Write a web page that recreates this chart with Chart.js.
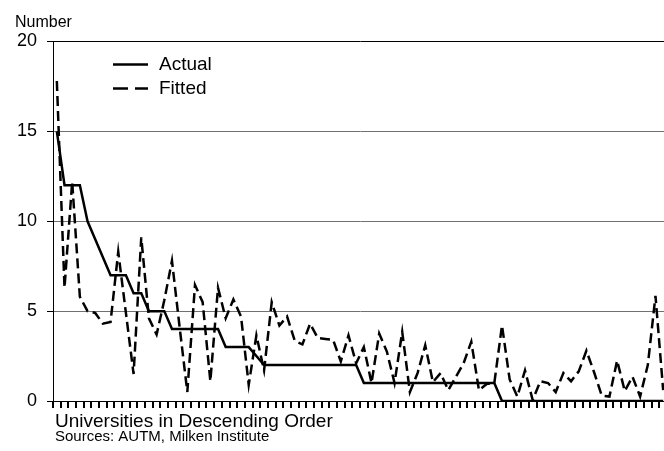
<!DOCTYPE html>
<html>
<head>
<meta charset="utf-8">
<title>Licenses per university: actual vs fitted</title>
<script src="https://cdn.jsdelivr.net/npm/chart.js@4/dist/chart.umd.min.js"></script>
<style>
  html, body { margin: 0; padding: 0; background: #fff; overflow: hidden; width: 664px; height: 451px; }
  #wrap { position: relative; width: 667px; height: 451px; }
</style>
</head>
<body>
<div id="wrap"><canvas id="chart"></canvas></div>
<script>
// Universities ranked 1..80 in descending order of the actual count
const ranks = [
  1, 2, 3, 4, 5, 6, 7, 8, 9, 10, 11, 12, 13, 14, 15, 16, 17, 18, 19, 20,
  21, 22, 23, 24, 25, 26, 27, 28, 29, 30, 31, 32, 33, 34, 35, 36, 37, 38, 39, 40,
  41, 42, 43, 44, 45, 46, 47, 48, 49, 50, 51, 52, 53, 54, 55, 56, 57, 58, 59, 60,
  61, 62, 63, 64, 65, 66, 67, 68, 69, 70, 71, 72, 73, 74, 75, 76, 77, 78, 79, 80
];

const actual = [
  15, 12, 12, 12, 10, 9, 8, 7, 7, 7, 6, 6, 5, 5, 5, 4, 4, 4, 4, 4,
  4, 4, 3, 3, 3, 3, 2.5, 2, 2, 2, 2, 2, 2, 2, 2, 2, 2, 2, 2, 2,
  1, 1, 1, 1, 1, 1, 1, 1, 1, 1, 1, 1, 1, 1, 1, 1, 1, 1, 0, 0,
  0, 0, 0, 0, 0, 0, 0, 0, 0, 0, 0, 0, 0, 0, 0, 0, 0, 0, 0, 0
];

const fitted = [
  17.8, 6.3, 12.2, 5.8, 5.0, 4.9, 4.3, 4.4, 8.3, 4.9, 1.5, 9.1, 4.6, 3.7, 5.6, 7.8, 4.1, 0.5, 6.45, 5.5,
  1.1, 6.3, 4.6, 5.65, 4.7, 0.9, 3.65, 1.7, 5.5, 4.2, 4.7, 3.35, 3.15, 4.3, 3.5, 3.45, 3.4, 2.2, 3.65, 2.1,
  3.0, 1.0, 3.75, 2.75, 1.0, 3.85, 0.5, 1.55, 3.1, 1.05, 1.55, 0.6, 1.35, 2.1, 3.3, 0.6, 0.95, 1.0, 4.2, 1.2,
  0.25, 1.7, 0.05, 1.1, 1.0, 0.5, 1.55, 1.1, 1.65, 2.8, 1.6, 0.3, 0.25, 2.25, 0.55, 1.35, 0.25, 2.0, 5.85, 0.6
];

const yTicks = [0, 5, 10, 15, 20];

const FONT = '"Liberation Sans", Arial, Helvetica, sans-serif';

// Titles, source note, category tick marks and the in-plot legend
const annotate = {
  id: 'annotate',
  afterDraw(chart) {
    const ctx = chart.ctx;
    const a = chart.chartArea;
    const pts = chart.getDatasetMeta(0).data;
    ctx.save();

    // tick marks on the category boundaries, below the axis
    const step = pts[1].x - pts[0].x;
    ctx.fillStyle = '#000';
    for (let i = 0; i <= pts.length; i++) {
      const cx = i < pts.length ? pts[i].x - step / 2 : pts[pts.length - 1].x + step / 2;
      ctx.fillRect(Math.round(cx) - 1, Math.round(a.bottom), 2, 7);
    }

    ctx.textAlign = 'left';
    ctx.textBaseline = 'alphabetic';

    ctx.font = '16px ' + FONT;
    ctx.fillText('Number', 15, 26.5);

    ctx.font = '19px ' + FONT;
    ctx.fillText('Universities in Descending Order', 55, 426.5);

    ctx.font = '15px ' + FONT;
    ctx.fillText('Sources: AUTM, Milken Institute', 55, 441);

    // legend
    const x0 = a.left + 60, x1 = a.left + 95;
    const yA = a.top + 23, yF = a.top + 47;
    ctx.strokeStyle = '#000';
    ctx.lineWidth = 2.5;
    ctx.beginPath();
    ctx.moveTo(x0, yA); ctx.lineTo(x1, yA);
    ctx.stroke();
    ctx.setLineDash([15, 7]);
    ctx.beginPath();
    ctx.moveTo(x0, yF); ctx.lineTo(x1, yF);
    ctx.stroke();
    ctx.setLineDash([]);

    ctx.font = '19px ' + FONT;
    ctx.textBaseline = 'middle';
    ctx.fillText('Actual', a.left + 106, yA);
    ctx.fillText('Fitted', a.left + 106, yF);
    ctx.restore();
  }
};

new Chart(document.getElementById('chart'), {
  type: 'line',
  data: {
    labels: ranks,
    datasets: [
      {
        label: 'Actual',
        data: actual,
        borderColor: '#000',
        borderWidth: 2.5,
        pointRadius: 0,
        tension: 0,
        fill: false
      },
      {
        label: 'Fitted',
        data: fitted,
        borderColor: '#000',
        borderWidth: 2.5,
        borderDash: [10, 5],
        pointRadius: 0,
        tension: 0,
        fill: false
      }
    ]
  },
  options: {
    responsive: true,
    maintainAspectRatio: false,
    animation: false,
    events: [],
    layout: { padding: { top: 41.5, left: 0, right: 0, bottom: 0 } },
    plugins: {
      legend: { display: false },
      tooltip: { enabled: false },
      title: { display: false }
    },
    scales: {
      x: {
        type: 'category',
        offset: true,
        grid: { display: false },
        border: { display: true, color: '#000', width: 1 },
        ticks: { display: false, autoSkip: false },
        afterFit(scale) { scale.height = 50; }
      },
      y: {
        min: 0,
        max: 20,
        afterBuildTicks(scale) { scale.ticks = yTicks.map(v => ({ value: v })); },
        grid: {
          display: true,
          drawOnChartArea: true,
          drawTicks: true,
          tickLength: 6,
          color: c => (c.tick && (c.tick.value === 20 || c.tick.value === 0)) ? '#000' : '#707070',
          tickColor: '#000',
          lineWidth: 1
        },
        border: { display: true, color: '#000', width: 1 },
        ticks: {
          color: '#000',
          padding: 10,
          font: { family: FONT, size: 18 }
        },
        afterFit(scale) { scale.width = 53; }
      }
    }
  },
  plugins: [annotate]
});
</script>
</body>
</html>
